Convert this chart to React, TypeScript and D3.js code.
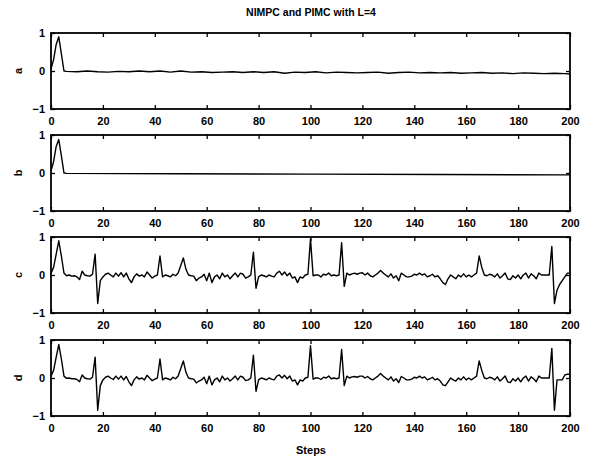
import React, { useEffect, useRef } from 'react';
import * as d3 from 'd3';

const title = 'NIMPC and PIMC with L=4';
const xLabel = 'Steps';
const panelNames = ['a', 'b', 'c', 'd'];
const xTicks = [0, 20, 40, 60, 80, 100, 120, 140, 160, 180, 200];
const yTicks = [-1, 0, 1];

// panel a: sparse points (step, value)
const aSteps = [0, 1, 2, 3, 4, 5, 6, 10, 14, 18, 22, 26, 30, 34, 38, 42, 46, 50, 54, 58, 62, 66, 70, 74, 78, 82, 86, 90, 94, 98,
  102, 106, 110, 114, 118, 122, 126, 130, 134, 138, 142, 146, 150, 154, 158, 162, 166, 170, 174, 178, 182, 186, 190, 194, 198, 200];
const aValues = [0.05, 0.3, 0.7, 0.9, 0.45, 0.0, -0.01, -0.02, 0.0, -0.02, -0.03, -0.01, -0.02, 0.0, -0.02, 0.0, -0.03, 0.0, -0.03, -0.02,
  -0.04, -0.03, -0.02, -0.04, -0.02, -0.04, -0.02, -0.06, -0.03, -0.04, -0.02, -0.05, -0.03, -0.04, -0.05, -0.04, -0.03, -0.06, -0.04,
  -0.03, -0.05, -0.04, -0.05, -0.04, -0.06, -0.05, -0.04, -0.06, -0.05, -0.07, -0.05, -0.06, -0.07, -0.06, -0.07, -0.08];

// panel b: sparse points
const bSteps = [0, 1, 2, 3, 4, 5, 6, 50, 100, 150, 200];
const bValues = [0.05, 0.3, 0.7, 0.88, 0.45, 0.0, -0.01, -0.02, -0.03, -0.04, -0.05];

// panel c: one value per step, 0..200
const cValues = [
  0.05, 0.2, 0.55, 0.9, 0.5, 0.05, -0.02, 0.0, -0.03, -0.02,
  -0.05, -0.12, 0.1, 0.0, -0.02, -0.03, 0.02, 0.55, -0.75, -0.15,
  -0.05, 0.02, 0.05, 0.0, -0.05, 0.05, -0.03, 0.06, -0.05, 0.05,
  -0.1, -0.2, -0.05, 0.03, -0.03, 0.0, -0.05, 0.08, 0.0, -0.08,
  -0.03, 0.0, 0.5, -0.05, 0.0, -0.02, -0.05, 0.02, -0.02, 0.05,
  0.25, 0.45, 0.15, 0.0, -0.02, -0.03, -0.15, -0.08, -0.05, 0.02,
  -0.15, 0.05, -0.2, -0.05, 0.0, -0.1, 0.05, -0.05, 0.0, -0.1,
  -0.02, 0.05, -0.05, 0.05, 0.02, -0.08, -0.05, 0.0, 0.6, -0.35,
  -0.05, 0.0, -0.02, -0.05, 0.0, -0.03, -0.05, 0.05, 0.1, 0.0,
  0.08, -0.02, 0.05, -0.08, -0.05, -0.2, -0.05, -0.08, 0.0, 0.02,
  0.95, -0.02, 0.0, 0.0, -0.05, 0.02, 0.0, 0.05, -0.02, 0.0,
  -0.02, 0.0, 0.85, -0.3, 0.05, 0.0, 0.03, 0.05, 0.02, 0.05,
  0.06, 0.0, 0.05, -0.02, -0.05, 0.0, 0.05, 0.12, 0.05, 0.0,
  -0.05, 0.03, -0.08, -0.02, -0.15, 0.05, 0.0, -0.05, -0.05, -0.03,
  0.02, 0.0, 0.05, 0.0, 0.03, -0.05, -0.02, 0.02, -0.05, -0.02,
  -0.1, -0.2, -0.25, -0.1, 0.0, -0.05, -0.1, 0.0, -0.05, 0.03,
  -0.05, 0.0, -0.05, 0.0, 0.05, 0.5, 0.2, 0.0, -0.02, 0.02,
  0.0, -0.05, 0.03, -0.08, -0.02, 0.05, -0.1, -0.12, -0.02, -0.08,
  0.0, -0.1, 0.0, 0.05, -0.08, 0.03, -0.02, -0.1, 0.05, 0.0,
  0.0, 0.0, 0.0, 0.75, -0.75, -0.4, -0.25, -0.15, -0.05, 0.05,
  0.05,
];

// panel d: one value per step, 0..200
const dValues = [
  0.05, 0.2, 0.55, 0.88, 0.5, 0.05, -0.01, 0.0, -0.02, -0.02,
  -0.04, -0.1, 0.08, 0.0, -0.02, -0.03, 0.02, 0.55, -0.85, -0.2,
  -0.05, 0.02, 0.05, 0.0, -0.04, 0.05, -0.03, 0.05, -0.05, 0.04,
  -0.1, -0.2, -0.05, 0.03, -0.03, 0.0, -0.05, 0.07, 0.0, -0.07,
  -0.03, 0.0, 0.5, -0.05, 0.0, -0.02, -0.05, 0.02, -0.02, 0.05,
  0.25, 0.45, 0.15, 0.0, -0.02, -0.03, -0.13, -0.08, -0.05, 0.02,
  -0.15, 0.05, -0.18, -0.05, 0.0, -0.1, 0.05, -0.05, 0.0, -0.08,
  -0.02, 0.05, -0.05, 0.05, 0.02, -0.07, -0.05, 0.0, 0.6, -0.35,
  -0.05, 0.0, -0.02, -0.05, 0.0, -0.03, -0.05, 0.05, 0.08, 0.0,
  0.07, -0.02, 0.05, -0.08, -0.05, -0.18, -0.05, -0.08, 0.0, 0.02,
  0.85, -0.03, 0.0, 0.0, -0.04, 0.02, 0.0, 0.05, -0.02, 0.0,
  -0.02, 0.0, 0.75, -0.2, 0.05, 0.0, 0.03, 0.04, 0.02, 0.05,
  0.05, 0.0, 0.04, -0.02, -0.05, 0.0, 0.05, 0.12, 0.05, 0.0,
  -0.05, 0.03, -0.08, -0.02, -0.12, 0.04, 0.0, -0.05, -0.05, -0.03,
  0.02, 0.0, 0.05, 0.0, 0.03, -0.05, -0.02, 0.02, -0.05, -0.02,
  -0.08, -0.18, -0.2, -0.1, 0.0, -0.05, -0.08, 0.0, -0.05, 0.03,
  -0.05, 0.0, -0.05, 0.0, 0.05, 0.45, 0.2, 0.0, -0.02, 0.02,
  0.0, -0.05, 0.03, -0.08, -0.02, 0.05, -0.1, -0.12, -0.02, -0.08,
  0.0, -0.1, 0.0, 0.05, -0.08, 0.03, -0.02, -0.1, 0.05, 0.0,
  0.0, 0.0, 0.0, 0.78, -0.85, -0.05, -0.05, -0.05, 0.08, 0.1,
  0.1,
];

const series = [
  aSteps.map((s, i) => [s, aValues[i]]),
  bSteps.map((s, i) => [s, bValues[i]]),
  cValues.map((v, i) => [i, v]),
  dValues.map((v, i) => [i, v]),
];

const W = 593;
const H = 457;
const left = 51;
const right = 570;
const panelTops = [33, 135, 237, 340];
const panelH = 76;
const font = '"Liberation Sans", Arial, sans-serif';

const App = () => {
  const svgRef = useRef<SVGSVGElement>(null);

  useEffect(() => {
    const svg = d3.select(svgRef.current);
    svg.selectAll('*').remove();

    const x = d3.scaleLinear().domain([0, 200]).range([left, right]);

    svg.append('text')
      .attr('x', 311).attr('y', 16)
      .attr('text-anchor', 'middle')
      .attr('font-family', font).attr('font-weight', 'bold').attr('font-size', 10.5)
      .text(title);

    panelTops.forEach((top, k) => {
      const y = d3.scaleLinear().domain([-1, 1]).range([top + panelH, top]);
      const g = svg.append('g');

      const styleAxis = (ax: any, labels: boolean) => {
        ax.select('.domain').remove();
        ax.selectAll('line').attr('stroke', '#000').attr('stroke-width', 1.3);
        ax.selectAll('text')
          .attr('font-family', font).attr('font-weight', 'bold').attr('font-size', 11)
          .attr('fill', '#000')
          .style('display', labels ? null : 'none');
      };

      g.append('g').attr('transform', `translate(0,${top + panelH})`)
        .call(d3.axisBottom(x).tickValues(xTicks).tickSize(-4).tickPadding(8).tickFormat(d3.format('d')))
        .call((ax) => styleAxis(ax, true));
      g.append('g').attr('transform', `translate(0,${top})`)
        .call(d3.axisTop(x).tickValues(xTicks).tickSize(-4))
        .call((ax) => styleAxis(ax, false));
      g.append('g').attr('transform', `translate(${left},0)`)
        .call(d3.axisLeft(y).tickValues(yTicks).tickSize(-4).tickPadding(6).tickFormat(d3.format('d')))
        .call((ax) => styleAxis(ax, true));
      g.append('g').attr('transform', `translate(${right},0)`)
        .call(d3.axisRight(y).tickValues(yTicks).tickSize(-4))
        .call((ax) => styleAxis(ax, false));

      const line = d3.line<number[]>()
        .x((d) => x(d[0]))
        .y((d) => y(d[1]));

      g.append('path')
        .datum(series[k])
        .attr('fill', 'none')
        .attr('stroke', '#000')
        .attr('stroke-width', 1.4)
        .attr('stroke-linejoin', 'round')
        .attr('d', line);

      g.append('rect')
        .attr('x', left).attr('y', top)
        .attr('width', right - left).attr('height', panelH)
        .attr('fill', 'none').attr('stroke', '#000').attr('stroke-width', 1.8);

      g.append('text')
        .attr('transform', `translate(22,${y(0)}) rotate(-90)`)
        .attr('text-anchor', 'middle')
        .attr('font-family', font).attr('font-weight', 'bold').attr('font-size', 11)
        .text(panelNames[k]);
    });

    svg.append('text')
      .attr('x', 311).attr('y', 454)
      .attr('text-anchor', 'middle')
      .attr('font-family', font).attr('font-weight', 'bold').attr('font-size', 11)
      .text(xLabel);
  }, []);

  return (
    <svg ref={svgRef} width={W} height={H}
      style={{ position: 'absolute', left: 0, top: 0, background: '#fff' }} />
  );
};

export default App;
